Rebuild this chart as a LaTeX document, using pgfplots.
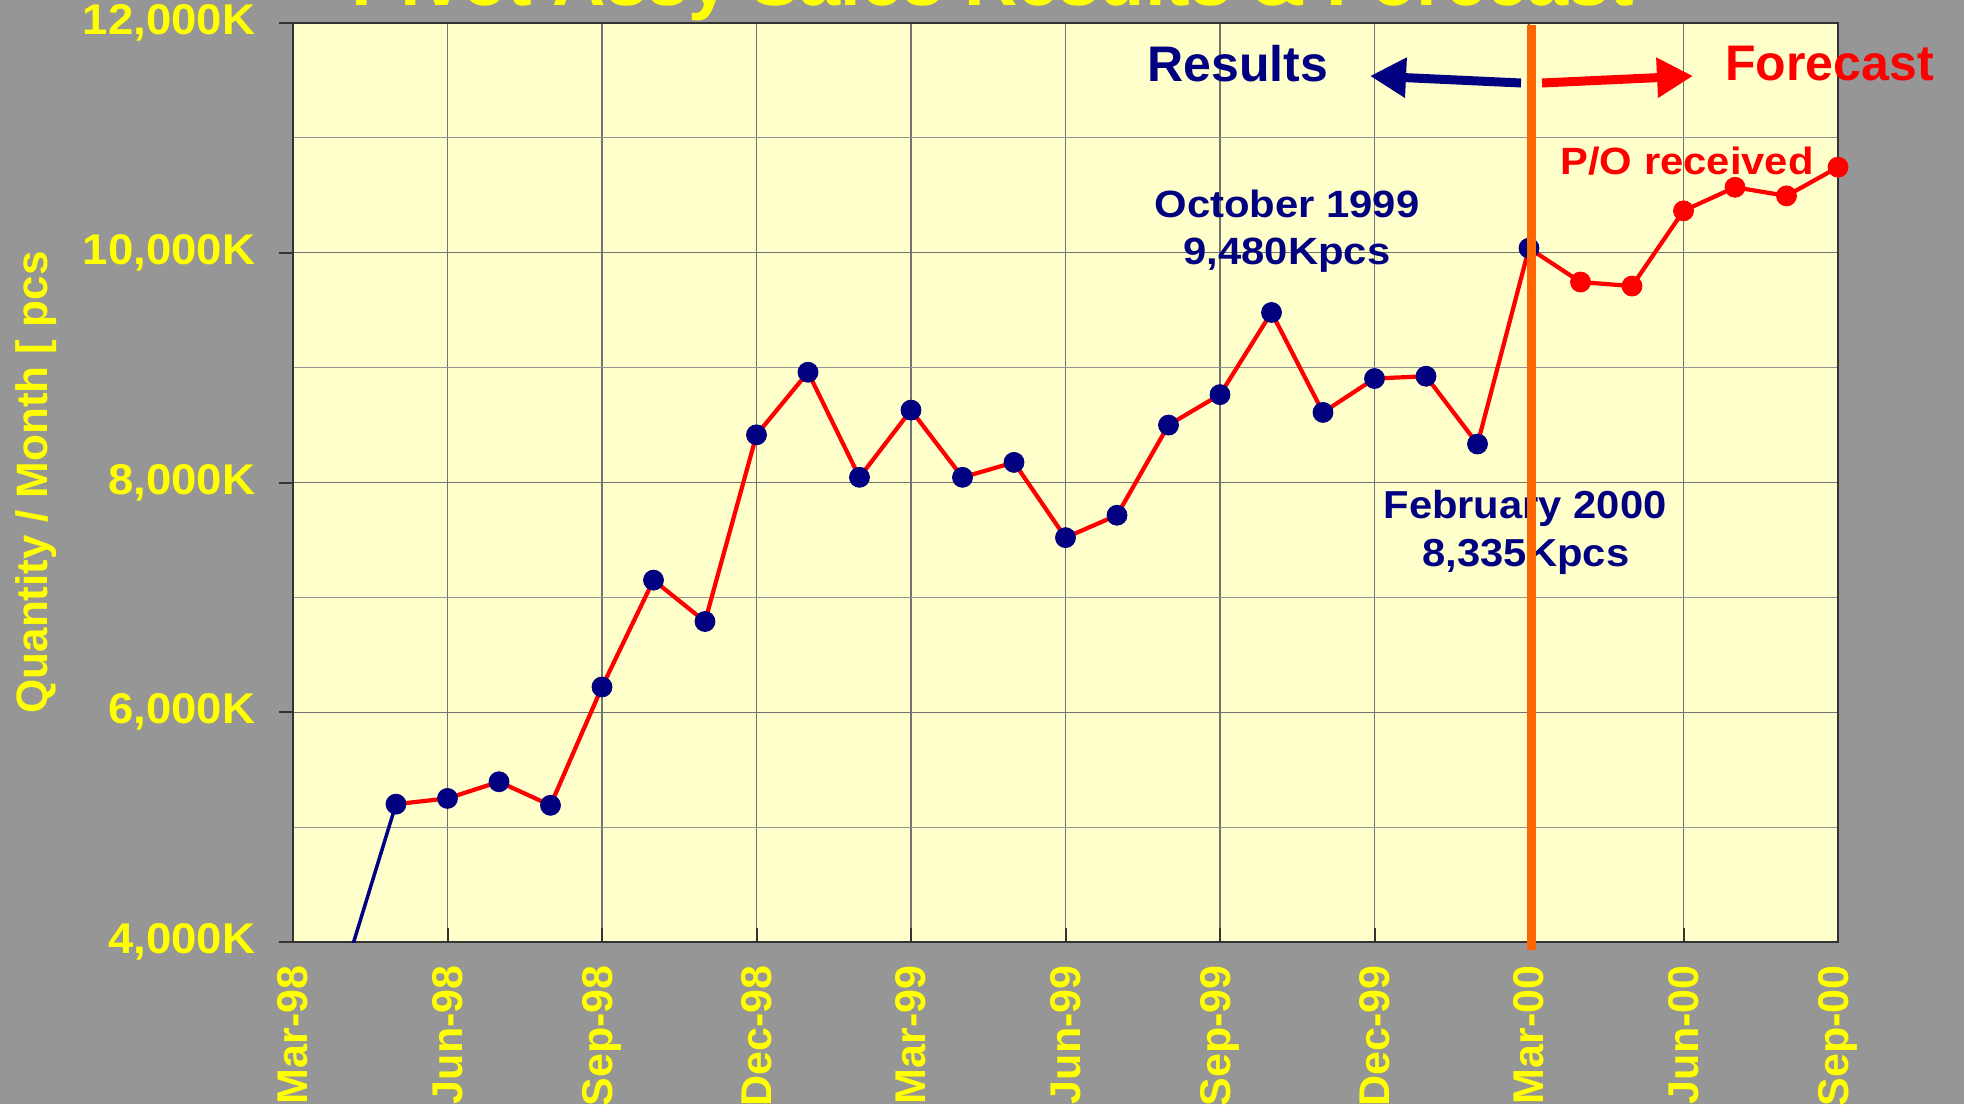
\documentclass[border=0pt]{standalone}
\usepackage{pgfplots}
\pgfplotsset{compat=1.18}
\usepackage{fontspec}
\setmainfont{Liberation Sans}
\usetikzlibrary{arrows.meta}
\definecolor{bggray}{HTML}{969696}
\definecolor{bgyellow}{HTML}{FFFFCC}
\definecolor{navy}{HTML}{000080}
\definecolor{orng}{HTML}{FF6600}
\definecolor{yell}{HTML}{FFFF00}
\definecolor{rd}{HTML}{FF0000}
\begin{document}
\begin{tikzpicture}
\useasboundingbox (0,0) rectangle (982pt,552pt);
\fill[bggray] (0,0) rectangle (982pt,552pt);
\begin{axis}[
  at={(146.5pt,81pt)}, anchor=south west,
  width=772.5pt, height=459.5pt, scale only axis,
  xmin=0, xmax=30, ymin=4000, ymax=12000,
  xtick={0,3,...,30},
  xticklabels={Mar-98,Jun-98,Sep-98,Dec-98,Mar-99,Jun-99,Sep-99,Dec-99,Mar-00,Jun-00,Sep-00},
  ytick={4000,6000,...,12000},
  yticklabels={{4,000K},{6,000K},{8,000K},{10,000K},{12,000K}},
  minor ytick={5000,7000,9000,11000},
  xmajorgrids, ymajorgrids, yminorgrids,
  major grid style={draw=black!55, line width=0.6pt},
  minor grid style={draw=black!42, line width=0.6pt},
  xtick pos=bottom, ytick pos=left,
  xtick align=inside, ytick align=outside,
  major tick length=7pt, minor tick length=0pt,
  tick style={draw=black!80, line width=1pt},
  axis line style={draw=black!80, line width=1pt},
  axis background/.style={fill=bgyellow},
  ticklabel style={font=\fontsize{21.5pt}{21.5pt}\selectfont\bfseries, text=yell},
  xticklabel style={rotate=90, anchor=east, inner xsep=11.5pt, inner ysep=0pt},
  yticklabel style={anchor=east, inner xsep=11pt, inner ysep=0pt, xscale=1.06},
  ylabel={Quantity / Month [ pcs},
  ylabel style={at={(axis description cs:-0.1586,0.5)}, anchor=base, rotate=0,
    font=\fontsize{22pt}{22pt}\selectfont\bfseries, text=yell, inner sep=0pt},
  title={Pivot Assy Sales Results \& Forecast},
  title style={at={(axis description cs:0.4531,1.0065)}, anchor=base,
    font=\fontsize{37pt}{37pt}\selectfont\bfseries, text=yell, inner sep=0pt},
]
% first segment (navy line)
\addplot[navy, line width=1.75pt, no marks] coordinates {(1,3740) (2,5200)};
% red connecting line
\addplot[rd, line width=2.1pt, no marks] coordinates {
(2,5200) (3,5250) (4,5395) (5,5190) (6,6220) (7,7150) (8,6790) (9,8415)
(10,8960) (11,8045) (12,8630) (13,8045) (14,8175) (15,7520) (16,7715)
(17,8500) (18,8765) (19,9480) (20,8610) (21,8905) (22,8925) (23,8335)
(24,10040) (25,9745) (26,9710) (27,10365) (28,10570) (29,10495) (30,10745)};
% results markers
\addplot[only marks, mark=*, mark size=5pt, mark options={draw=navy, fill=navy}] coordinates {
(2,5200) (3,5250) (4,5395) (5,5190) (6,6220) (7,7150) (8,6790) (9,8415)
(10,8960) (11,8045) (12,8630) (13,8045) (14,8175) (15,7520) (16,7715)
(17,8500) (18,8765) (19,9480) (20,8610) (21,8905) (22,8925) (23,8335)
(24,10040)};
% forecast markers
\addplot[only marks, mark=*, mark size=5pt, mark options={draw=rd, fill=rd}] coordinates {
(25,9745) (26,9710) (27,10365) (28,10570) (29,10495) (30,10745)};
\end{axis}
% annotations
\node[anchor=base west, inner sep=0pt, text=navy, font=\fontsize{25pt}{25pt}\selectfont\bfseries] at (573.5pt,511pt) {Results};
\node[anchor=base west, inner sep=0pt, text=rd, font=\fontsize{25pt}{25pt}\selectfont\bfseries] at (862.5pt,511.5pt) {Forecast};
\draw[navy, line width=4.5pt, -{Triangle[length=18pt,width=19pt]}] (760.5pt,510.5pt) -- (685pt,514pt);
\draw[rd, line width=4.5pt, -{Triangle[length=18pt,width=19pt]}] (771pt,510.5pt) -- (846.5pt,514pt);
\node[anchor=base, inner sep=0pt, xscale=1.1, text=navy, font=\fontsize{19pt}{19pt}\selectfont\bfseries] at (643.5pt,443pt) {October 1999};
\node[anchor=base, inner sep=0pt, xscale=1.1, text=navy, font=\fontsize{19pt}{19pt}\selectfont\bfseries] at (643.5pt,419.5pt) {9,480Kpcs};
\node[anchor=base west, inner sep=0pt, xscale=1.1, text=rd, font=\fontsize{19pt}{19pt}\selectfont\bfseries] at (780pt,464.5pt) {P/O received};
\node[anchor=base, inner sep=0pt, xscale=1.07, text=navy, font=\fontsize{19.5pt}{19.5pt}\selectfont\bfseries] at (762.5pt,292.5pt) {February 2000};
\node[anchor=base, inner sep=0pt, xscale=1.07, text=navy, font=\fontsize{19.5pt}{19.5pt}\selectfont\bfseries] at (763pt,268.5pt) {8,335Kpcs};
% orange divider
\draw[orng, line width=4.5pt] (765.5pt,77pt) -- (765.5pt,539.5pt);
\end{tikzpicture}
\end{document}
